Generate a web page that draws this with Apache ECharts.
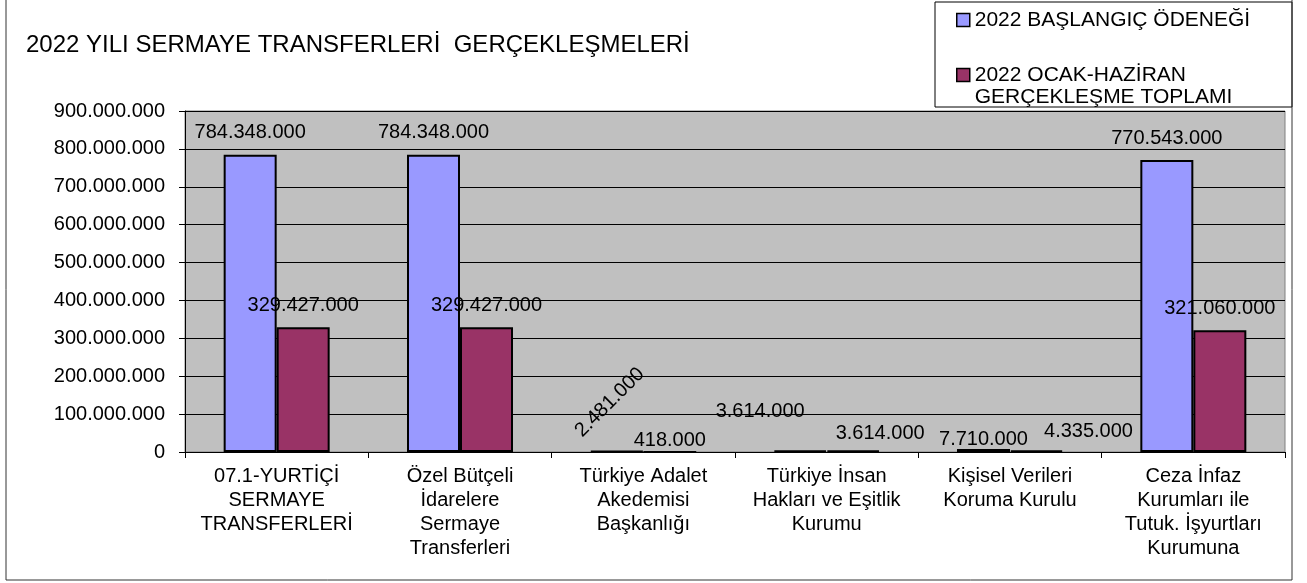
<!DOCTYPE html>
<html>
<head>
<meta charset="utf-8">
<script src="https://cdn.jsdelivr.net/npm/echarts@6/dist/echarts.min.js"></script>
<style>
  html, body { margin: 0; padding: 0; background: #fff; }
  #chart { width: 1307px; height: 583px; }
</style>
</head>
<body>
<div id="chart"></div>
<script>
// veriler
var categories = [
    '07.1-YURTİÇİ\nSERMAYE\nTRANSFERLERİ',
    'Özel Bütçeli\nİdarelere\nSermaye\nTransferleri',
    'Türkiye Adalet\nAkedemisi\nBaşkanlığı',
    'Türkiye İnsan\nHakları ve Eşitlik\nKurumu',
    'Kişisel Verileri\nKoruma Kurulu',
    'Ceza İnfaz\nKurumları ile\nTutuk. İşyurtları\nKurumuna'
]
var seriesNames = ['2022 BAŞLANGIÇ ÖDENEĞİ', '2022 OCAK-HAZİRAN GERÇEKLEŞME TOPLAMI']
var baslangic = [784348000, 784348000, 2481000, 3614000, 7710000, 770543000]
var gerceklesme = [329427000, 329427000, 418000, 3614000, 4335000, 321060000]

var font = "'Liberation Sans', Arial, sans-serif"

function dotted(v) {
    return String(v).replace(/\B(?=(\d{3})+(?!\d))/g, '.')
}

// etiketlerin elle kaydirilmis yerleri (Excel'deki gibi)
var labelTweaks = {
    '0-2': {rotate: 45, distance: 41},
    '1-2': {distance: 0},
    '0-3': {distance: 29, offset: [-40, 0]},
    '1-3': {distance: 7, offset: [27, 0]},
    '0-4': {distance: 0},
    '1-4': {distance: 9, offset: [52, 0]}
}

function buildData(values, si) {
    return values.map(function (v, i) {
        var t = labelTweaks[si + '-' + i]
        return t ? {value: v, label: t} : v
    })
}

var chart = echarts.init(document.getElementById('chart'))

var itemStyle = {borderColor: '#000', borderWidth: 2}
var labelStyle = {
    show: true,
    position: 'top',
    distance: 12,
    color: '#000',
    fontFamily: font,
    fontSize: 20,
    formatter: function (p) { return dotted(p.value) }
}

chart.setOption({
    animation: false,
    title: {
        text: '2022 YILI SERMAYE TRANSFERLERİ  GERÇEKLEŞMELERİ',
        left: 26,
        top: 33,
        padding: 0,
        textStyle: {fontFamily: font, fontSize: 24, fontWeight: 'normal', color: '#000', lineHeight: 24}
    },
    legend: {
        orient: 'vertical',
        left: 956,
        top: 9,
        padding: 0,
        itemGap: 11,
        itemWidth: 13,
        itemHeight: 13,
        icon: 'rect',
        itemStyle: {borderColor: '#000', borderWidth: 1.5},
        textStyle: {fontFamily: font, fontSize: 21, color: '#000', lineHeight: 22},
        formatter: function (name) {
            return name === seriesNames[1] ? '\n2022 OCAK-HAZİRAN\nGERÇEKLEŞME TOPLAMI' : name
        },
        data: seriesNames
    },
    graphic: [
        {type: 'rect', shape: {x: 6, y: -2, width: 1286, height: 582}, style: {fill: 'none', stroke: '#333', lineWidth: 1}, silent: true},
        {type: 'rect', shape: {x: 935, y: 2, width: 357, height: 105}, style: {fill: '#fff', stroke: '#000', lineWidth: 1}, silent: true, z: -1}
    ],
    grid: {
        left: 185,
        right: 22,
        top: 111,
        bottom: 131,
        show: true,
        backgroundColor: '#C0C0C0',
        borderColor: '#808080',
        borderWidth: 1
    },
    xAxis: {
        type: 'category',
        data: categories,
        axisLine: {lineStyle: {color: '#000', width: 1}},
        axisTick: {show: true, length: 6, lineStyle: {color: '#000'}},
        axisLabel: {
            interval: 0,
            margin: 12,
            color: '#000',
            fontFamily: font,
            fontSize: 20,
            lineHeight: 24
        }
    },
    yAxis: {
        type: 'value',
        min: 0,
        max: 900000000,
        interval: 100000000,
        axisLine: {show: true, lineStyle: {color: '#000', width: 1}},
        axisTick: {show: true, length: 6, lineStyle: {color: '#000'}},
        splitLine: {lineStyle: {color: '#000', width: 1}},
        axisLabel: {
            margin: 20,
            color: '#000',
            fontFamily: font,
            fontSize: 20,
            formatter: dotted
        }
    },
    series: [
        {
            name: seriesNames[0],
            type: 'bar',
            barWidth: 53,
            barGap: '0%',
            itemStyle: Object.assign({color: '#9999FF'}, itemStyle),
            label: labelStyle,
            data: buildData(baslangic, 0)
        },
        {
            name: seriesNames[1],
            type: 'bar',
            barWidth: 53,
            barGap: '0%',
            itemStyle: Object.assign({color: '#993366'}, itemStyle),
            label: labelStyle,
            data: buildData(gerceklesme, 1)
        }
    ]
})
</script>
</body>
</html>
